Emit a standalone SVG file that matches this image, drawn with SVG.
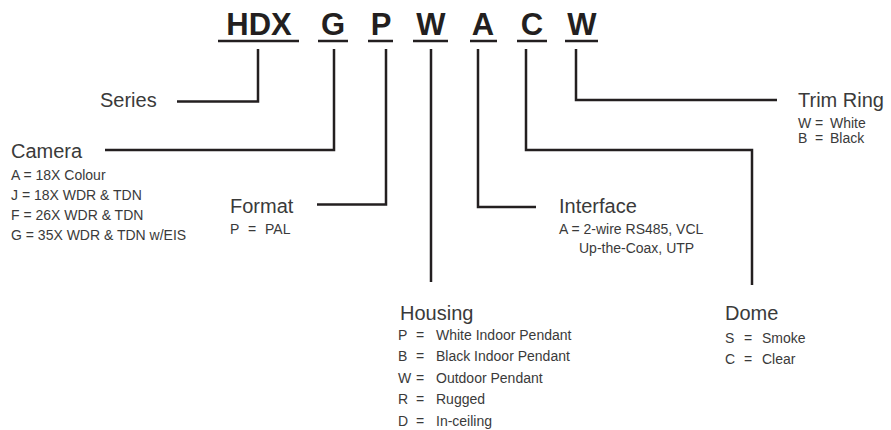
<svg xmlns="http://www.w3.org/2000/svg" width="891" height="430" viewBox="0 0 891 430">
<style>
.code{font-family:"Liberation Sans",Arial,sans-serif;font-weight:bold;font-size:31px;fill:#231f20;text-anchor:middle}
.ul{stroke:#231f20;stroke-width:2.5;fill:none}
.ttl{font-family:"Liberation Sans",Arial,sans-serif;font-size:20px;fill:#3a3a3a}
.opt{font-family:"Liberation Sans",Arial,sans-serif;font-size:14px;fill:#3a3a3a}
.ln{stroke:#231f20;stroke-width:2.5;fill:none;stroke-linejoin:miter;stroke-linecap:butt}
</style>
<rect width="891" height="430" fill="#ffffff"/>
<g id="code">
<text class="code" x="259" y="35">HDX</text>
<text class="code" x="333" y="35">G</text>
<text class="code" x="381" y="35">P</text>
<text class="code" x="431" y="35">W</text>
<text class="code" x="483" y="35">A</text>
<text class="code" x="532" y="35">C</text>
<text class="code" x="582" y="35">W</text>
<path class="ul" d="M218,41H299M318,41H348M368,41H393M413,41H448M470,41H497M517,41H547M565,41H598"/>
</g>
<g id="connectors">
<path class="ln" d="M177,101.5H258V49"/>
<path class="ln" d="M105,150H334V49"/>
<path class="ln" d="M317,204.5H386V49"/>
<path class="ln" d="M431,282V49"/>
<path class="ln" d="M536,207H478V49"/>
<path class="ln" d="M526,49V150H752V285"/>
<path class="ln" d="M576,49V100H777"/>
</g>
<g id="series">
<text class="ttl" x="100" y="107">Series</text>
</g>
<g id="camera">
<text class="ttl" x="11" y="158">Camera</text>
<text class="opt" x="11" y="180">A = 18X Colour</text>
<text class="opt" x="11" y="200">J = 18X WDR &amp; TDN</text>
<text class="opt" x="11" y="220">F = 26X WDR &amp; TDN</text>
<text class="opt" x="11" y="240">G = 35X WDR &amp; TDN w/EIS</text>
</g>
<g id="format">
<text class="ttl" x="230" y="213">Format</text>
<text class="opt" x="230" y="234">P</text>
<text class="opt" x="248" y="234">=</text>
<text class="opt" x="265" y="234">PAL</text>
</g>
<g id="housing">
<text class="ttl" x="400" y="320">Housing</text>
<text class="opt" x="398" y="340">P</text><text class="opt" x="416" y="340">=</text><text class="opt" x="436" y="340">White Indoor Pendant</text>
<text class="opt" x="398" y="361">B</text><text class="opt" x="416" y="361">=</text><text class="opt" x="436" y="361">Black Indoor Pendant</text>
<text class="opt" x="398" y="382.5">W</text><text class="opt" x="416" y="382.5">=</text><text class="opt" x="436" y="382.5">Outdoor Pendant</text>
<text class="opt" x="398" y="404">R</text><text class="opt" x="416" y="404">=</text><text class="opt" x="436" y="404">Rugged</text>
<text class="opt" x="398" y="425.5">D</text><text class="opt" x="416" y="425.5">=</text><text class="opt" x="436" y="425.5">In-ceiling</text>
</g>
<g id="interface">
<text class="ttl" x="559" y="213">Interface</text>
<text class="opt" x="559" y="234">A = 2-wire RS485, VCL</text>
<text class="opt" x="579" y="253">Up-the-Coax, UTP</text>
</g>
<g id="dome">
<text class="ttl" x="725" y="320">Dome</text>
<text class="opt" x="725" y="343">S</text><text class="opt" x="744" y="343">=</text><text class="opt" x="762" y="343">Smoke</text>
<text class="opt" x="725" y="364">C</text><text class="opt" x="744" y="364">=</text><text class="opt" x="762" y="364">Clear</text>
</g>
<g id="trimring">
<text class="ttl" x="798" y="107">Trim Ring</text>
<text class="opt" x="798" y="128">W</text><text class="opt" x="815" y="128">=</text><text class="opt" x="830" y="128">White</text>
<text class="opt" x="798" y="143">B</text><text class="opt" x="815" y="143">=</text><text class="opt" x="830" y="143">Black</text>
</g>
</svg>
